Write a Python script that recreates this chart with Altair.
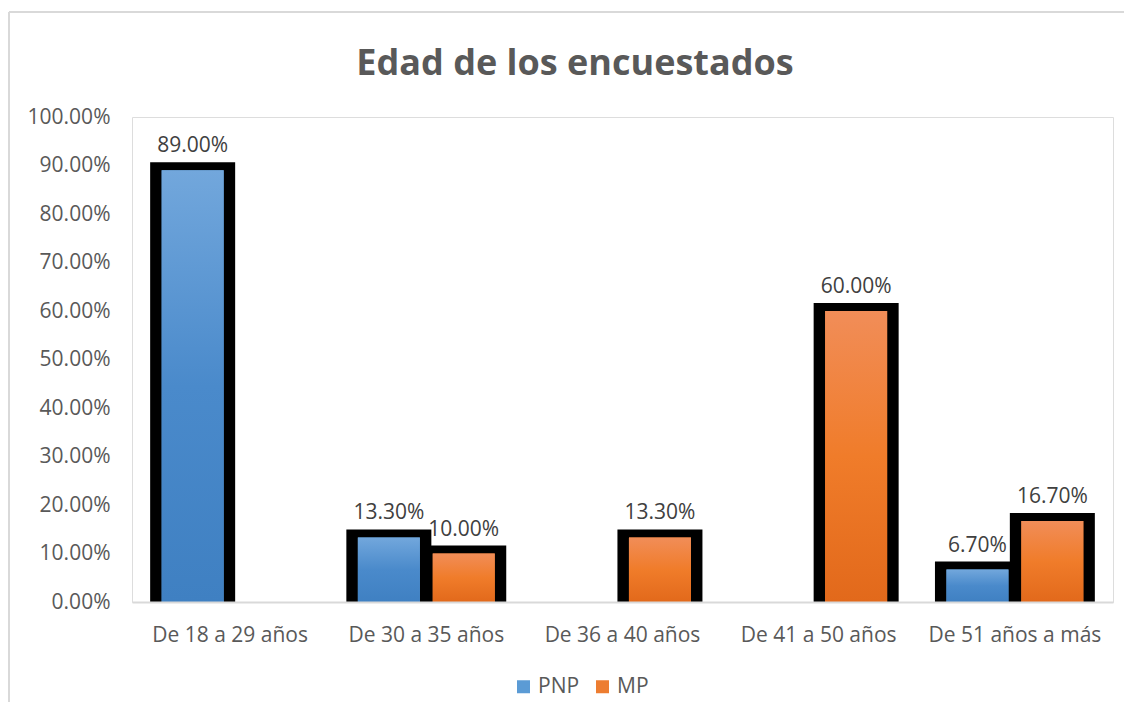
import altair as alt
import pandas as pd

categories = ["De 18 a 29 años", "De 30 a 35 años", "De 36 a 40 años",
              "De 41 a 50 años", "De 51 años a más"]
series_names = ["PNP", "MP"]
pnp_values = [0.89, 0.133, None, None, 0.067]
mp_values = [None, 0.10, 0.133, 0.60, 0.167]
y_ticks = [0.0, 0.1, 0.2, 0.3, 0.4, 0.5, 0.6, 0.7, 0.8, 0.9, 1.0]
title_text = "Edad de los encuestados"

rows = []
for cat, p, m in zip(categories, pnp_values, mp_values):
    if p is not None:
        rows.append({"categoria": cat, "serie": "PNP", "valor": p})
    if m is not None:
        rows.append({"categoria": cat, "serie": "MP", "valor": m})
df = pd.DataFrame(rows)

FONT = "Open Sans"
GRAY = "#595959"
FS = 21

blue_grad = alt.LinearGradient(
    gradient="linear", x1=0, x2=0, y1=0, y2=1,
    stops=[alt.GradientStop(color="#72A7DC", offset=0),
           alt.GradientStop(color="#4A8ACB", offset=0.5),
           alt.GradientStop(color="#3F80C2", offset=1)])
orange_grad = alt.LinearGradient(
    gradient="linear", x1=0, x2=0, y1=0, y2=1,
    stops=[alt.GradientStop(color="#F18D58", offset=0),
           alt.GradientStop(color="#F07C2A", offset=0.5),
           alt.GradientStop(color="#E2691B", offset=1)])

x_enc = alt.X("categoria:N", sort=categories,
              scale=alt.Scale(domain=categories, paddingInner=0, paddingOuter=0),
              axis=alt.Axis(title=None, labelAngle=0, ticks=False, grid=False,
                            domainColor="#D9D9D9", domainWidth=2, labelColor=GRAY,
                            labelFontSize=FS, labelFont=FONT, labelPadding=22, zindex=1))
xo_enc = alt.XOffset("serie:N", sort=series_names,
                     scale=alt.Scale(domain=series_names, paddingInner=0, paddingOuter=0.31))
y_enc = alt.Y("valor:Q", scale=alt.Scale(domain=[0, 1], nice=False),
              axis=alt.Axis(title=None, values=y_ticks, format=".2%", grid=False, domain=False,
                            ticks=False, labelColor=GRAY, labelFontSize=FS, labelFont=FONT,
                            labelPadding=22))

base = alt.Chart(df)

one_row = alt.Data(values=[{}])
frame_top = alt.Chart(one_row).mark_rule(stroke="#D9D9D9", strokeWidth=2).encode(
    x=alt.value(-123), x2=alt.value(992), y=alt.value(-105))
frame_left = alt.Chart(one_row).mark_rule(stroke="#D9D9D9", strokeWidth=2).encode(
    x=alt.value(-123), y=alt.value(-105), y2=alt.value(585))

title = alt.Chart(alt.Data(values=[{"t": title_text}])).mark_text(
    fontSize=36, font=FONT, fontWeight="bold", color=GRAY, align="center",
    baseline="alphabetic"
).encode(x=alt.value(443), y=alt.value(-42), text="t:N")

black = base.mark_bar(color="black", stroke="black", strokeWidth=16, width=69, clip=True).encode(
    x=x_enc, xOffset=xo_enc, y=y_enc)

solid = base.mark_bar(width=62).encode(
    x=x_enc, xOffset=xo_enc, y=y_enc,
    color=alt.Color("serie:N", sort=series_names,
                    scale=alt.Scale(domain=series_names, range=["#5B9BD5", "#ED7D31"]),
                    legend=alt.Legend(title=None, orient="none", direction="horizontal",
                                      legendX=381, legendY=559, symbolType="square",
                                      symbolSize=169, symbolStrokeWidth=0,
                                      labelFontSize=FS, labelFont=FONT, labelColor=GRAY,
                                      labelOffset=4, columnPadding=12, padding=0)))

grad_pnp = base.transform_filter(alt.datum.serie == "PNP").mark_bar(
    width=62, color=blue_grad).encode(x=x_enc, xOffset=xo_enc, y=y_enc)
grad_mp = base.transform_filter(alt.datum.serie == "MP").mark_bar(
    width=62, color=orange_grad).encode(x=x_enc, xOffset=xo_enc, y=y_enc)

labels = base.mark_text(baseline="alphabetic", dy=-18, fontSize=FS, font=FONT,
                        color="#404040").encode(
    x=x_enc, xOffset=xo_enc, y=y_enc, text=alt.Text("valor:Q", format=".2%"))

chart = alt.layer(frame_top, frame_left, title, black, solid, grad_pnp, grad_mp, labels).properties(
    width=981, height=485,
    autosize=alt.AutoSizeParams(type="none"),
    padding={"left": 124, "top": 109, "right": 11, "bottom": 100},
).configure_view(stroke="transparent", strokeWidth=0).configure(background="white")

chart.save("out.html", embed_options={"renderer": "svg", "actions": False})
